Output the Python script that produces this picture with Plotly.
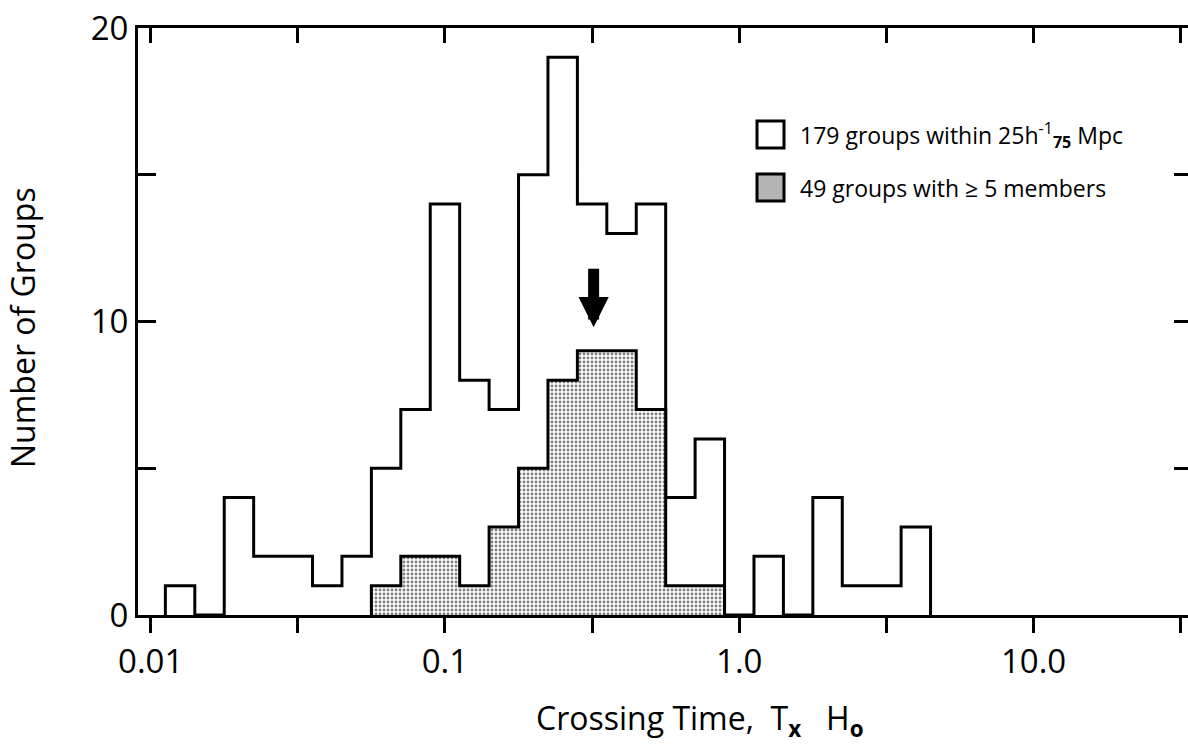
import math
import plotly.graph_objects as go

# ---------------- data ----------------
# bin centres in log10(T_x H_o), bin width 0.1 dex
bin_log_centers = [-1.9, -1.8, -1.7, -1.6, -1.5, -1.4, -1.3, -1.2, -1.1, -1.0,
                   -0.9, -0.8, -0.7, -0.6, -0.5, -0.4, -0.3, -0.2, -0.1, 0.0,
                   0.1, 0.2, 0.3, 0.4, 0.5, 0.6]
bin_width_dex = 0.1
all_groups = [1, 0, 4, 2, 2, 1, 2, 5, 7, 14,
              8, 7, 15, 19, 14, 13, 14, 4, 6, 0,
              2, 0, 4, 1, 1, 3]
rich_groups = [0, 0, 0, 0, 0, 0, 0, 1, 2, 2,
               1, 3, 5, 8, 9, 9, 7, 1, 1, 0,
               0, 0, 0, 0, 0, 0]
legend_labels = ["179 groups within 25h<sup>-1</sup><sub><b>75</b></sub> Mpc",
                 "49 groups with \u2265 5 members"]
x_major_vals = [0.01, 0.1, 1.0, 10.0]
x_major_text = ["0.01", "0.1", "1.0", "10.0"]
x_minor_vals = [10 ** -1.5, 10 ** -0.5, 10 ** 0.5, 10 ** 1.5]
y_major_vals = [0, 10, 20]
y_minor_vals = [5, 15]
median_T = 0.32
arrow_tip_count = 9.8

FONT = "Open Sans"


def step_outline(centers, counts, width):
    xs, ys = [], []
    xs.append(10 ** (centers[0] - width / 2))
    ys.append(0)
    for c, n in zip(centers, counts):
        xs += [10 ** (c - width / 2), 10 ** (c + width / 2)]
        ys += [n, n]
    xs.append(10 ** (centers[-1] + width / 2))
    ys.append(0)
    return xs, ys


fig = go.Figure()

ax_x, ax_y = step_outline(bin_log_centers, all_groups, bin_width_dex)
fig.add_trace(go.Scatter(x=ax_x, y=ax_y, mode="lines",
                         line=dict(color="black", width=3),
                         showlegend=False, hoverinfo="skip"))

# shaded histogram: only span non-zero bins
nz = [i for i, v in enumerate(rich_groups) if v > 0]
rc = bin_log_centers[nz[0]:nz[-1] + 1]
rv = rich_groups[nz[0]:nz[-1] + 1]
rx, ry = step_outline(rc, rv, bin_width_dex)
fig.add_trace(go.Scatter(x=rx, y=ry, mode="lines",
                         line=dict(color="black", width=3),
                         fill="tozeroy", fillcolor="white",
                         fillpattern=dict(shape=".", fgcolor="black",
                                          bgcolor="white", size=4, solidity=0.4),
                         showlegend=False, hoverinfo="skip"))

W, H = 1188, 748
L, R, T, B = 138, 0, 28, 133
pw, ph = W - L - R, H - T - B
x0_log = -2.043
x1_log = x0_log + pw / 294.3


def px(xp):
    return (xp - L) / pw


def py(yp):
    return (H - B - yp) / ph


axis_common = dict(showgrid=False, zeroline=False, linecolor="black",
                   linewidth=3, tickcolor="black", tickwidth=3)

fig.update_layout(
    width=W, height=H,
    margin=dict(l=L, r=R, t=T, b=B, autoexpand=False),
    plot_bgcolor="white", paper_bgcolor="white",
    font=dict(family=FONT, color="black"),
    xaxis=dict(type="log", range=[x0_log, x1_log], showline=True,
               ticks="outside", ticklen=15, tickvals=x_major_vals,
               ticktext=x_major_text, tickfont=dict(size=33, family=FONT),
               minor=dict(tickvals=x_minor_vals, ticks="outside", ticklen=15,
                          tickwidth=3, tickcolor="black", showgrid=False),
               automargin=False, **axis_common),
    xaxis2=dict(type="log", range=[x0_log, x1_log], overlaying="x", side="top",
                matches="x", showline=True, ticks="inside", ticklen=15,
                tickvals=x_major_vals + x_minor_vals, showticklabels=False,
                automargin=False, **axis_common),
    yaxis=dict(range=[0, 20], showline=True, ticks="inside", ticklen=18,
               tickvals=y_major_vals, tickfont=dict(size=33, family=FONT),
               minor=dict(tickvals=y_minor_vals, ticks="inside", ticklen=18,
                          tickwidth=3, tickcolor="black", showgrid=False),
               automargin=False, **axis_common),
    yaxis2=dict(range=[0, 20], overlaying="y", side="right", matches="y",
                showline=False, ticks="inside", ticklen=14,
                tickvals=[5, 10, 15], showticklabels=False, automargin=False,
                **axis_common),
)

# dummy invisible trace to activate the secondary axes
fig.add_trace(go.Scatter(x=[x_major_vals[0]], y=[0], xaxis="x2", yaxis="y2",
                         mode="markers", marker=dict(opacity=0),
                         showlegend=False, hoverinfo="skip"))

# arrow marking the median crossing time
fig.add_annotation(x=math.log10(median_T), y=arrow_tip_count, xref="x", yref="y",
                   text="", showarrow=True, ax=0, ay=-60, arrowhead=2,
                   arrowwidth=11, arrowsize=0.55, arrowcolor="black")

# axis titles
fig.add_annotation(x=px(700), y=py(720), xref="paper", yref="paper",
                   text="Crossing Time,  T<sub><b>x</b></sub>   H<sub><b>o</b></sub>",
                   showarrow=False, font=dict(size=32, family=FONT),
                   xanchor="center", yanchor="middle")
fig.add_annotation(x=px(22), y=py(328), xref="paper", yref="paper",
                   text="Number of Groups", textangle=-90, showarrow=False,
                   font=dict(size=32, family=FONT),
                   xanchor="center", yanchor="middle")

# legend
box_x0, box_x1 = 757, 784
for i, (top, bot) in enumerate([(121, 148), (174, 201)]):
    fig.add_shape(type="rect", xref="paper", yref="paper",
                  x0=px(box_x0), x1=px(box_x1), y0=py(bot), y1=py(top),
                  line=dict(color="black", width=3),
                  fillcolor="white" if i == 0 else "#b4b4b4")
    fig.add_annotation(x=px(798), y=py((top + bot) / 2), xref="paper",
                       yref="paper", text=legend_labels[i], showarrow=False,
                       font=dict(size=23, family=FONT),
                       xanchor="left", yanchor="middle")

fig.write_html("out.html")
